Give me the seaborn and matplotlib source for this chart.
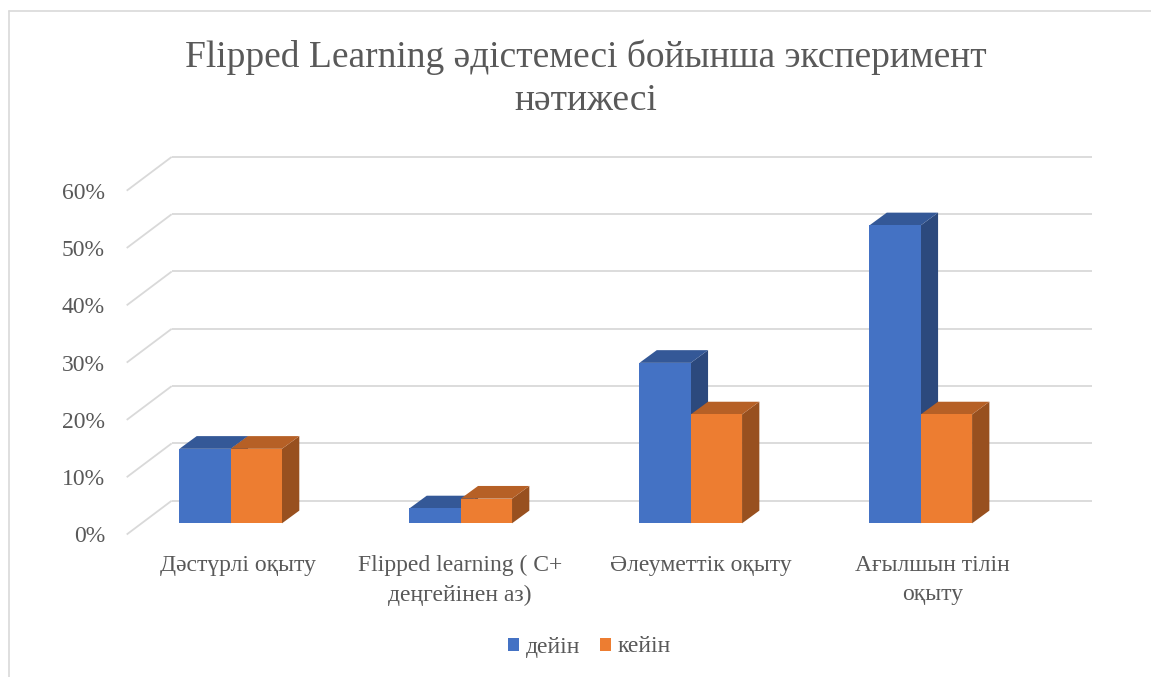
import matplotlib
matplotlib.use("Agg")
import matplotlib.pyplot as plt
import numpy as np
import pandas as pd
import seaborn as sns
from matplotlib.patches import Polygon
from matplotlib.lines import Line2D
from matplotlib.transforms import ScaledTranslation
from matplotlib.ticker import PercentFormatter

# ---- data -------------------------------------------------------------
categories = [
    "Дәстүрлі оқыту",
    "Flipped learning ( C+\nдеңгейінен аз)",
    "Әлеуметтік оқыту",
    "Ағылшын тілін\nоқыту",
]
periods = ["дейін", "кейін"]
before_vals = [0.13, 0.026, 0.28, 0.52]   # дейін
after_vals = [0.13, 0.043, 0.19, 0.19]    # кейін
ytick_values = [0.0, 0.1, 0.2, 0.3, 0.4, 0.5, 0.6]
title_text = "Flipped Learning әдістемесі бойынша эксперимент\nнәтижесі"

df = pd.DataFrame({
    "category": categories * 2,
    "period": [periods[0]] * len(categories) + [periods[1]] * len(categories),
    "value": before_vals + after_vals,
})

# ---- style ------------------------------------------------------------
BLUE = "#4472C4"
ORANGE = "#ED7D31"
TEXT = "#595959"
GRID = "#D9D9D9"
FS = 17
LABEL_SHIFT_PX = [7, -1, 10, 12]   # horizontal nudge of each category label

sns.set_theme(style="white")
plt.rcParams["font.family"] = ["Liberation Serif", "DejaVu Serif"]

W, H = 1151, 677
fig = plt.figure(figsize=(W / 100, H / 100), dpi=100)
fig.patch.set_facecolor("white")


def px_rect(left, top, right, bottom):
    return [left / W, 1 - bottom / H, (right - left) / W, (bottom - top) / H]


ax = fig.add_axes(px_rect(142.7, 179.5, 1062.7, 523.3))
sns.barplot(
    data=df, x="category", y="value", hue="period",
    order=categories, hue_order=periods, palette=[BLUE, ORANGE],
    width=0.446, saturation=1, linewidth=0, ax=ax,
)
ax.set_xlim(-0.3826, 3.617)
ax.set_ylim(0, 0.6)
ax.patch.set_visible(False)
ax.grid(False)
for s in ax.spines.values():
    s.set_visible(False)
ax.set_xlabel("")
ax.set_ylabel("")

# pixel -> data conversion for the depth offsets of the 3-D look
(x0d, y0d), (x1d, y1d) = ax.transData.transform([(0, 0), (1, 1)])
ppx, ppy = x1d - x0d, y1d - y0d


def off(dx_px, dy_px):
    return dx_px / ppx, dy_px / ppy


# back wall grid lines and the slanted side-wall stubs
xl, xr = -0.3826, 3.617
bdx, bdy = off(29, 22.6)
fdx, fdy = off(-16, -11.2)
for v in ytick_values:
    ax.plot([xl + bdx, xr + bdx], [v + bdy, v + bdy], color=GRID, lw=1.3,
            clip_on=False, zorder=0.5, solid_capstyle="butt")
    ax.plot([xl + fdx, xl + bdx], [v + fdy, v + bdy], color=GRID, lw=1.3,
            clip_on=False, zorder=0.5, solid_capstyle="butt")

# extrude each bar: side and top faces in darker shades
ddx, ddy = off(17.3, 12.7)
bars = [b for c in ax.containers for b in c]
bars.sort(key=lambda b: b.get_x())
for i, bar in enumerate(bars):
    x0 = bar.get_x()
    w = bar.get_width()
    h = bar.get_height()
    x1 = x0 + w
    rgb = np.array(matplotlib.colors.to_rgb(bar.get_facecolor()))
    base = 2 + i * 0.01
    side = Polygon([(x1, 0), (x1, h), (x1 + ddx, h + ddy), (x1 + ddx, ddy)],
                   closed=True, facecolor=rgb * 0.64, edgecolor="none",
                   clip_on=False, zorder=base + 0.001)
    top = Polygon([(x0, h), (x1, h), (x1 + ddx, h + ddy), (x0 + ddx, h + ddy)],
                  closed=True, facecolor=rgb * 0.77, edgecolor="none",
                  clip_on=False, zorder=base + 0.002)
    ax.add_patch(side)
    ax.add_patch(top)
    bar.set_zorder(base + 0.003)
    bar.set_clip_on(False)

# ticks
ax.set_yticks(ytick_values)
ax.yaxis.set_major_formatter(PercentFormatter(1.0, decimals=0))
ax.tick_params(axis="y", length=0, pad=27.1, labelsize=FS, labelcolor=TEXT)
for lbl in ax.get_yticklabels():
    lbl.set_transform(lbl.get_transform()
                      + ScaledTranslation(0, -11.2 / 100, fig.dpi_scale_trans))

ax.set_xticks(range(len(categories)))
ax.set_xticklabels(categories, linespacing=1.55)
ax.tick_params(axis="x", length=0, pad=22.5, labelsize=FS, labelcolor=TEXT)
for lbl, shift in zip(ax.get_xticklabels(), LABEL_SHIFT_PX):
    lbl.set_transform(lbl.get_transform()
                      + ScaledTranslation(shift / 100, 0, fig.dpi_scale_trans))

# legend
sns.move_legend(
    ax, "center", bbox_to_anchor=(589.5 / W, 1 - 647 / H),
    bbox_transform=fig.transFigure, ncol=2, title=None, frameon=False,
    handlelength=0.47, handleheight=0.47, handletextpad=0.28,
    columnspacing=0.85, fontsize=FS, labelcolor=TEXT,
)

# title
fig.text(585.5 / W, 1 - 79 / H, title_text, ha="center", va="center",
         fontsize=27, color=TEXT, linespacing=1.32)

# chart frame
fig.add_artist(Line2D([9 / W, 9 / W], [0, 1 - 11 / H], color=GRID, lw=1.2,
                      transform=fig.transFigure))
fig.add_artist(Line2D([9 / W, 1], [1 - 11 / H, 1 - 11 / H], color=GRID, lw=1.2,
                      transform=fig.transFigure))

fig.savefig("out.png", dpi=100, facecolor="white")
